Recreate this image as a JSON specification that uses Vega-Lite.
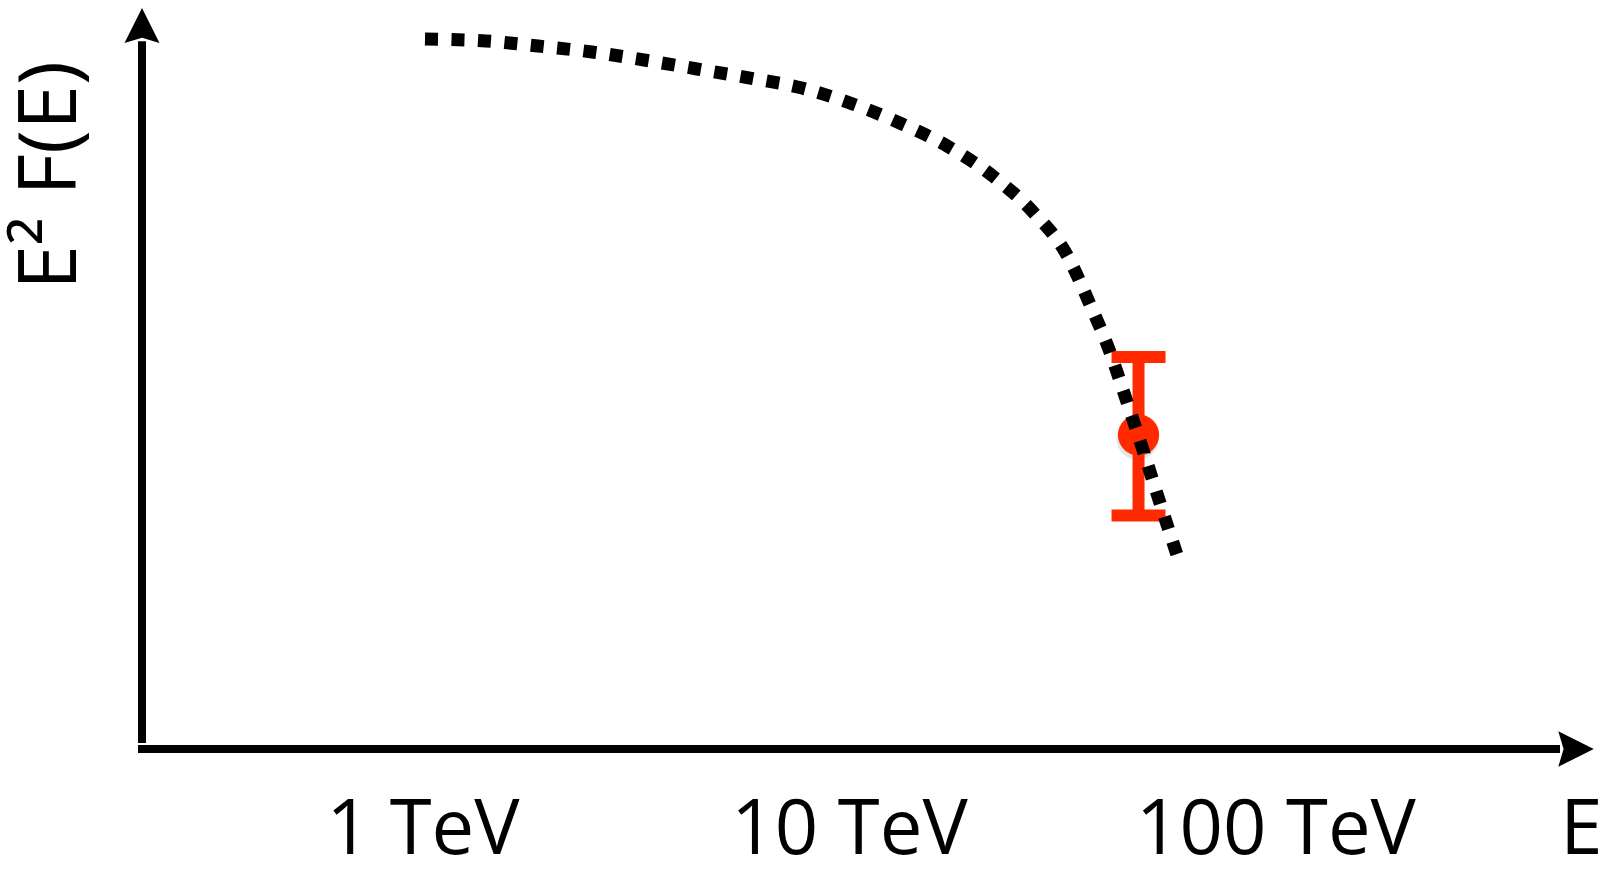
{
  "$schema": "https://vega.github.io/schema/vega-lite/v6.json",
  "width": 1460,
  "height": 741,
  "autosize": {"type": "none"},
  "padding": {"left": 142, "top": 8, "right": 3, "bottom": 122},
  "background": "white",
  "config": {"view": {"stroke": null}, "font": "Open Sans"},
  "datasets": {
    "spectrum": [
      {"E": 1.0138, "F": 0.9582},
      {"E": 1.4091, "F": 0.9555},
      {"E": 1.8662, "F": 0.9487},
      {"E": 2.4975, "F": 0.9406},
      {"E": 3.3074, "F": 0.9298},
      {"E": 4.404, "F": 0.9177},
      {"E": 5.8625, "F": 0.9055},
      {"E": 7.7611, "F": 0.892},
      {"E": 10.221, "F": 0.8704},
      {"E": 13.316, "F": 0.8435},
      {"E": 17.164, "F": 0.8124},
      {"E": 21.885, "F": 0.7719},
      {"E": 27.16, "F": 0.7233},
      {"E": 32.445, "F": 0.6667},
      {"E": 36.54, "F": 0.6032},
      {"E": 40.93, "F": 0.5358},
      {"E": 44.87, "F": 0.4683},
      {"E": 49.18, "F": 0.3995},
      {"E": 53.62, "F": 0.332},
      {"E": 59.1, "F": 0.2578}
    ],
    "measurement": [
      {"E": 47.75, "F": 0.4238, "lo": 0.3151, "hi": 0.529}
    ],
    "axisLines": [
      {"E": 0.2153, "E2": 464.7, "F": 0, "F2": 0},
      {"E": 0.22, "E2": 0.22, "F": 0.008, "F2": 0.955}
    ],
    "arrowHeads": [
      {"E": 506.7, "F": 0, "dir": "x"},
      {"E": 0.22, "F": 0.9764, "dir": "y"}
    ]
  },
  "encoding": {
    "x": {
      "field": "E",
      "type": "quantitative",
      "scale": {"type": "log", "domain": [0.22, 583], "nice": false},
      "axis": {
        "values": [1, 10, 100, 583],
        "labelExpr": "datum.value > 200 ? 'E' : datum.value + ' TeV'",
        "domain": false,
        "ticks": false,
        "tickSize": 0,
        "grid": false,
        "labelFont": "Open Sans",
        "labelFontSize": 76,
        "labelColor": "#000000",
        "labelPadding": 104,
        "labelBaseline": "alphabetic",
        "labelAlign": {"condition": {"test": "datum.value > 200", "value": "right"}, "value": "center"},
        "labelOverlap": false,
        "labelBound": false,
        "labelFlush": false,
        "labelLimit": 0,
        "title": null
      }
    },
    "y": {
      "field": "F",
      "type": "quantitative",
      "scale": {"domain": [0, 1], "nice": false, "zero": false},
      "axis": {
        "domain": false,
        "ticks": false,
        "labels": false,
        "grid": false,
        "title": "E² F(E)",
        "titleFont": "Open Sans",
        "titleFontSize": 81,
        "titleFontWeight": "normal",
        "titleColor": "#000000",
        "titleAngle": -90,
        "titleAlign": "center",
        "titleBaseline": "alphabetic",
        "titleLimit": 0,
        "titleX": -67,
        "titleY": 167
      }
    }
  },
  "layer": [
    {
      "data": {"name": "measurement"},
      "mark": {"type": "circle", "size": 1750, "color": "#000000", "opacity": 0.1, "xOffset": -1, "yOffset": 4}
    },
    {
      "data": {"name": "measurement"},
      "mark": {"type": "rule", "color": "#ff2a00", "strokeWidth": 12, "opacity": 1},
      "encoding": {"y": {"field": "lo", "type": "quantitative"}, "y2": {"field": "hi"}}
    },
    {
      "data": {"name": "measurement"},
      "mark": {"type": "tick", "orient": "horizontal", "size": 54, "thickness": 12, "color": "#ff2a00", "opacity": 1},
      "encoding": {"y": {"field": "hi", "type": "quantitative"}}
    },
    {
      "data": {"name": "measurement"},
      "mark": {"type": "tick", "orient": "horizontal", "size": 54, "thickness": 12, "color": "#ff2a00", "opacity": 1},
      "encoding": {"y": {"field": "lo", "type": "quantitative"}}
    },
    {
      "data": {"name": "measurement"},
      "mark": {"type": "circle", "size": 1700, "color": "#ff2a00", "opacity": 1}
    },
    {
      "data": {"name": "spectrum"},
      "mark": {"type": "line", "color": "#000000", "strokeWidth": 13, "strokeDash": [13, 13.5], "strokeCap": "butt", "interpolate": "monotone"}
    },
    {
      "data": {"name": "axisLines"},
      "mark": {"type": "rule", "color": "#000000", "strokeWidth": 8, "strokeCap": "butt"},
      "encoding": {"x2": {"field": "E2"}, "y2": {"field": "F2"}}
    },
    {
      "data": {"name": "arrowHeads"},
      "transform": [{"filter": "datum.dir === 'x'"}],
      "mark": {"type": "point", "shape": "M1,0L-1,-1L-0.7,0L-1,1Z", "size": 1260, "filled": true, "color": "#000000", "opacity": 1, "strokeWidth": 0}
    },
    {
      "data": {"name": "arrowHeads"},
      "transform": [{"filter": "datum.dir === 'y'"}],
      "mark": {"type": "point", "shape": "M0,-1L1,1L0,0.7L-1,1Z", "size": 1225, "filled": true, "color": "#000000", "opacity": 1, "strokeWidth": 0}
    }
  ]
}
